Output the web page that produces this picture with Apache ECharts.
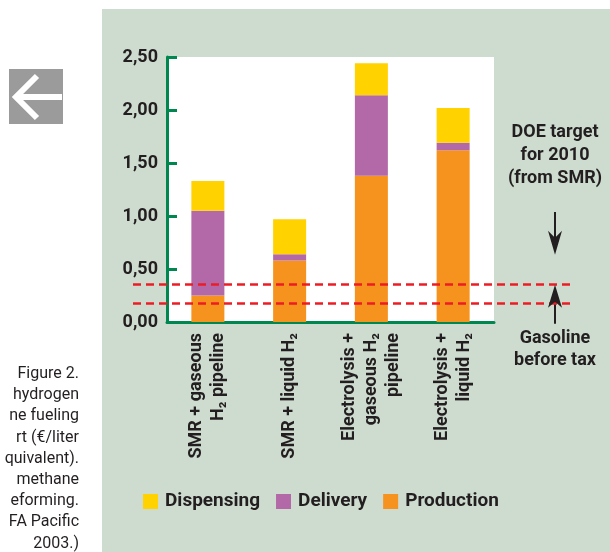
<!DOCTYPE html>
<html>
<head>
<meta charset="utf-8">
<title>Hydrogen cost</title>
<script src="https://cdn.jsdelivr.net/npm/echarts@6/dist/echarts.min.js"></script>
<style>
html, body { margin: 0; padding: 0; background: #fff; }
#main { width: 610px; height: 552px; }
</style>
</head>
<body>
<div id="main"></div>
<script>
// data (€/liter gasoline equivalent)
var categories = ['SMR + gaseous\nH₂ pipeline', 'SMR + liquid H₂', 'Electrolysis +\ngaseous H₂\npipeline', 'Electrolysis +\nliquid H₂'];
var production = [0.25, 0.58, 1.38, 1.62];
var delivery   = [0.80, 0.06, 0.76, 0.07];
var dispensing = [0.28, 0.33, 0.30, 0.33];
var yTickLabels = ['0,00', '0,50', '1,00', '1,50', '2,00', '2,50'];
var doeTarget = 0.36;      // upper dashed line
var gasolineLine = 0.18;   // lower dashed line
var captionLines = ['Figure 2.', 'hydrogen', 'ne fueling', 'rt (€/liter', 'quivalent).', 'methane', 'eforming.', 'FA Pacific', '2003.)'];

var green = '#00874f';
var dark = '#231f20';
var font = 'Roboto, "DejaVu Sans", sans-serif';

var chart = echarts.init(document.getElementById('main'));

var option = {
    animation: false,
    textStyle: { fontFamily: font },
    legend: {
        left: 143,
        top: 492,
        padding: 0,
        icon: 'rect',
        itemWidth: 15,
        itemHeight: 15,
        itemGap: 16,
        data: ['Dispensing', 'Delivery', 'Production'],
        textStyle: { fontSize: 19, fontWeight: 'bold', color: dark, fontFamily: font, padding: [0, 0, 0, 2] }
    },
    grid: [
        { left: 167, right: 116, top: 57, bottom: 230, show: true, backgroundColor: '#fff', borderWidth: 0 },
        // wider hidden grid so the dashed lines run past the plot
        { left: 133, right: 37, top: 57, bottom: 230 }
    ],
    xAxis: [
        {
            type: 'category',
            data: categories,
            gridIndex: 0,
            axisLine: { lineStyle: { color: green, width: 3 } },
            axisTick: { show: false },
            axisLabel: {
                interval: 0, rotate: 90, margin: 11,
                fontSize: 18, fontWeight: 'bold', color: dark, lineHeight: 22, fontFamily: font
            }
        },
        { type: 'value', gridIndex: 1, min: 0, max: 1, show: false }
    ],
    yAxis: [
        {
            type: 'value',
            gridIndex: 0,
            min: 0, max: 2.5, interval: 0.5,
            axisLine: { show: true, lineStyle: { color: green, width: 3 } },
            axisTick: { show: true, inside: true, length: 10, lineStyle: { color: green, width: 3 } },
            splitLine: { show: false },
            axisLabel: {
                margin: 9, fontSize: 18, fontWeight: 'bold', color: dark, fontFamily: font,
                formatter: function (v) { return yTickLabels[Math.round(v / 0.5)]; }
            }
        },
        { type: 'value', gridIndex: 1, min: 0, max: 2.5, show: false }
    ],
    series: [
        { name: 'Production', type: 'bar', stack: 'cost', barWidth: 33, data: production, itemStyle: { color: '#f6921e' } },
        { name: 'Delivery', type: 'bar', stack: 'cost', barWidth: 33, data: delivery, itemStyle: { color: '#b368a7' } },
        { name: 'Dispensing', type: 'bar', stack: 'cost', barWidth: 33, data: dispensing, itemStyle: { color: '#ffd200' } },
        {
            name: 'lines', type: 'line', xAxisIndex: 1, yAxisIndex: 1, data: [], z: 10,
            markLine: {
                silent: true,
                symbol: 'none',
                label: { show: false },
                lineStyle: { color: '#ed1c24', width: 2.5, type: [8, 5] },
                data: [{ yAxis: doeTarget }, { yAxis: gasolineLine }]
            }
        }
    ]
};
chart.setOption(option);

// annotations: panel, caption, arrows
var yTarget = chart.convertToPixel({ yAxisIndex: 0 }, doeTarget);
var ax = 555;
var graphics = [
    { type: 'rect', z: -100, shape: { x: 102, y: 9, width: 508, height: 543 }, style: { fill: '#cedcd0' } },
    { type: 'rect', z: -100, shape: { x: 9, y: 69, width: 54, height: 55 }, style: { fill: '#9b9b9b' } },
    { type: 'polyline', z: -99, shape: { points: [[37, 76], [16, 97], [37, 118]] }, style: { stroke: '#fff', lineWidth: 6, fill: null } },
    { type: 'line', z: -99, shape: { x1: 16, y1: 97, x2: 62, y2: 97 }, style: { stroke: '#fff', lineWidth: 6 } },
    {
        type: 'text', x: ax, y: 155,
        style: { text: 'DOE target\nfor 2010\n(from SMR)', align: 'center', verticalAlign: 'middle', lineHeight: 23, font: 'bold 18px ' + font, fill: dark }
    },
    {
        type: 'text', x: ax, y: 349,
        style: { text: 'Gasoline\nbefore tax', align: 'center', verticalAlign: 'middle', lineHeight: 22, font: 'bold 18px ' + font, fill: dark }
    },
    // down arrow
    { type: 'line', shape: { x1: ax, y1: 212, x2: ax, y2: 240 }, style: { stroke: dark, lineWidth: 2 } },
    { type: 'polygon', shape: { points: [[ax, yTarget - 29], [ax - 7, yTarget - 53], [ax, yTarget - 46], [ax + 7, yTarget - 53]] }, style: { fill: dark } },
    // up arrow
    { type: 'line', shape: { x1: ax, y1: yTarget + 15, x2: ax, y2: yTarget + 40 }, style: { stroke: dark, lineWidth: 2 } },
    { type: 'polygon', z: 20, shape: { points: [[ax, yTarget + 1], [ax - 7, yTarget + 24], [ax, yTarget + 18], [ax + 7, yTarget + 24]] }, style: { fill: dark } }
];
captionLines.forEach(function (t, i) {
    graphics.push({
        type: 'text', x: 79, y: 382 + i * 21.2,
        style: { text: t, align: 'right', verticalAlign: 'bottom', font: '16px ' + font, fill: dark }
    });
});
chart.setOption({ graphic: graphics });

window.addEventListener('resize', function () { chart.resize(); });
</script>
</body>
</html>
